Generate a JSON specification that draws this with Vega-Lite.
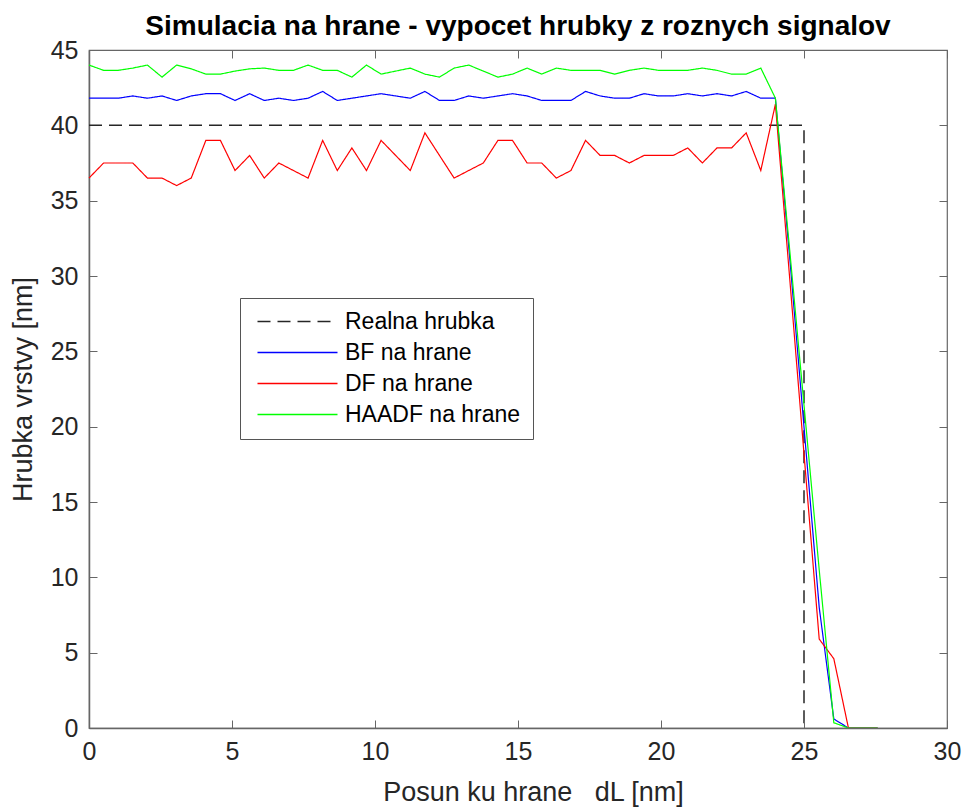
{
  "$schema": "https://vega.github.io/schema/vega-lite/v6.json",
  "width": 858,
  "height": 678,
  "autosize": {"type": "none"},
  "padding": {"left": 89, "top": 50, "right": 21, "bottom": 79},
  "background": "white",
  "title": {"text": "Simulacia na hrane - vypocet hrubky z roznych signalov", "font": "Liberation Sans", "fontSize": 28, "fontWeight": "bold", "color": "#000000", "anchor": "middle", "baseline": "alphabetic", "offset": 13, "dy": 38},
  "datasets": {
    "real": [
      {"x": 0, "y": 40, "n": 1, "series": "Realna hrubka"},
      {"x": 25, "y": 40, "n": 2, "series": "Realna hrubka"},
      {"x": 25, "y": 0, "n": 3, "series": "Realna hrubka"}
    ],
    "sig": [
      {"x": 0, "y": 41.8, "series": "BF na hrane"},
      {"x": 0.5106, "y": 41.8, "series": "BF na hrane"},
      {"x": 1.0213, "y": 41.8, "series": "BF na hrane"},
      {"x": 1.5319, "y": 41.95, "series": "BF na hrane"},
      {"x": 2.0426, "y": 41.8, "series": "BF na hrane"},
      {"x": 2.5532, "y": 41.95, "series": "BF na hrane"},
      {"x": 3.0638, "y": 41.65, "series": "BF na hrane"},
      {"x": 3.5745, "y": 41.95, "series": "BF na hrane"},
      {"x": 4.0851, "y": 42.1, "series": "BF na hrane"},
      {"x": 4.5957, "y": 42.1, "series": "BF na hrane"},
      {"x": 5.1064, "y": 41.65, "series": "BF na hrane"},
      {"x": 5.617, "y": 42.1, "series": "BF na hrane"},
      {"x": 6.1277, "y": 41.65, "series": "BF na hrane"},
      {"x": 6.6383, "y": 41.8, "series": "BF na hrane"},
      {"x": 7.1489, "y": 41.65, "series": "BF na hrane"},
      {"x": 7.6596, "y": 41.8, "series": "BF na hrane"},
      {"x": 8.1702, "y": 42.25, "series": "BF na hrane"},
      {"x": 8.6809, "y": 41.65, "series": "BF na hrane"},
      {"x": 9.1915, "y": 41.8, "series": "BF na hrane"},
      {"x": 9.7021, "y": 41.95, "series": "BF na hrane"},
      {"x": 10.2128, "y": 42.1, "series": "BF na hrane"},
      {"x": 10.7234, "y": 41.95, "series": "BF na hrane"},
      {"x": 11.234, "y": 41.8, "series": "BF na hrane"},
      {"x": 11.7447, "y": 42.25, "series": "BF na hrane"},
      {"x": 12.2553, "y": 41.65, "series": "BF na hrane"},
      {"x": 12.766, "y": 41.65, "series": "BF na hrane"},
      {"x": 13.2766, "y": 41.95, "series": "BF na hrane"},
      {"x": 13.7872, "y": 41.8, "series": "BF na hrane"},
      {"x": 14.2979, "y": 41.95, "series": "BF na hrane"},
      {"x": 14.8085, "y": 42.1, "series": "BF na hrane"},
      {"x": 15.3191, "y": 41.95, "series": "BF na hrane"},
      {"x": 15.8298, "y": 41.65, "series": "BF na hrane"},
      {"x": 16.3404, "y": 41.65, "series": "BF na hrane"},
      {"x": 16.8511, "y": 41.65, "series": "BF na hrane"},
      {"x": 17.3617, "y": 42.25, "series": "BF na hrane"},
      {"x": 17.8723, "y": 41.95, "series": "BF na hrane"},
      {"x": 18.383, "y": 41.8, "series": "BF na hrane"},
      {"x": 18.8936, "y": 41.8, "series": "BF na hrane"},
      {"x": 19.4043, "y": 42.1, "series": "BF na hrane"},
      {"x": 19.9149, "y": 41.95, "series": "BF na hrane"},
      {"x": 20.4255, "y": 41.95, "series": "BF na hrane"},
      {"x": 20.9362, "y": 42.1, "series": "BF na hrane"},
      {"x": 21.4468, "y": 41.95, "series": "BF na hrane"},
      {"x": 21.9574, "y": 42.1, "series": "BF na hrane"},
      {"x": 22.4681, "y": 41.95, "series": "BF na hrane"},
      {"x": 22.9787, "y": 42.25, "series": "BF na hrane"},
      {"x": 23.4894, "y": 41.8, "series": "BF na hrane"},
      {"x": 24.0, "y": 41.8, "series": "BF na hrane"},
      {"x": 24.5106, "y": 31.0, "series": "BF na hrane"},
      {"x": 25.0213, "y": 19.5, "series": "BF na hrane"},
      {"x": 25.5319, "y": 8.0, "series": "BF na hrane"},
      {"x": 26.0426, "y": 0.6, "series": "BF na hrane"},
      {"x": 26.5532, "y": 0, "series": "BF na hrane"},
      {"x": 27.0638, "y": 0, "series": "BF na hrane"},
      {"x": 27.5745, "y": 0, "series": "BF na hrane"},

      {"x": 0, "y": 36.5, "series": "DF na hrane"},
      {"x": 0.5106, "y": 37.5, "series": "DF na hrane"},
      {"x": 1.0213, "y": 37.5, "series": "DF na hrane"},
      {"x": 1.5319, "y": 37.5, "series": "DF na hrane"},
      {"x": 2.0426, "y": 36.5, "series": "DF na hrane"},
      {"x": 2.5532, "y": 36.5, "series": "DF na hrane"},
      {"x": 3.0638, "y": 36.0, "series": "DF na hrane"},
      {"x": 3.5745, "y": 36.5, "series": "DF na hrane"},
      {"x": 4.0851, "y": 39.0, "series": "DF na hrane"},
      {"x": 4.5957, "y": 39.0, "series": "DF na hrane"},
      {"x": 5.1064, "y": 37.0, "series": "DF na hrane"},
      {"x": 5.617, "y": 38.0, "series": "DF na hrane"},
      {"x": 6.1277, "y": 36.5, "series": "DF na hrane"},
      {"x": 6.6383, "y": 37.5, "series": "DF na hrane"},
      {"x": 7.1489, "y": 37.0, "series": "DF na hrane"},
      {"x": 7.6596, "y": 36.5, "series": "DF na hrane"},
      {"x": 8.1702, "y": 39.0, "series": "DF na hrane"},
      {"x": 8.6809, "y": 37.0, "series": "DF na hrane"},
      {"x": 9.1915, "y": 38.5, "series": "DF na hrane"},
      {"x": 9.7021, "y": 37.0, "series": "DF na hrane"},
      {"x": 10.2128, "y": 39.0, "series": "DF na hrane"},
      {"x": 10.7234, "y": 38.0, "series": "DF na hrane"},
      {"x": 11.234, "y": 37.0, "series": "DF na hrane"},
      {"x": 11.7447, "y": 39.5, "series": "DF na hrane"},
      {"x": 12.2553, "y": 38.0, "series": "DF na hrane"},
      {"x": 12.766, "y": 36.5, "series": "DF na hrane"},
      {"x": 13.2766, "y": 37.0, "series": "DF na hrane"},
      {"x": 13.7872, "y": 37.5, "series": "DF na hrane"},
      {"x": 14.2979, "y": 39.0, "series": "DF na hrane"},
      {"x": 14.8085, "y": 39.0, "series": "DF na hrane"},
      {"x": 15.3191, "y": 37.5, "series": "DF na hrane"},
      {"x": 15.8298, "y": 37.5, "series": "DF na hrane"},
      {"x": 16.3404, "y": 36.5, "series": "DF na hrane"},
      {"x": 16.8511, "y": 37.0, "series": "DF na hrane"},
      {"x": 17.3617, "y": 39.0, "series": "DF na hrane"},
      {"x": 17.8723, "y": 38.0, "series": "DF na hrane"},
      {"x": 18.383, "y": 38.0, "series": "DF na hrane"},
      {"x": 18.8936, "y": 37.5, "series": "DF na hrane"},
      {"x": 19.4043, "y": 38.0, "series": "DF na hrane"},
      {"x": 19.9149, "y": 38.0, "series": "DF na hrane"},
      {"x": 20.4255, "y": 38.0, "series": "DF na hrane"},
      {"x": 20.9362, "y": 38.5, "series": "DF na hrane"},
      {"x": 21.4468, "y": 37.5, "series": "DF na hrane"},
      {"x": 21.9574, "y": 38.5, "series": "DF na hrane"},
      {"x": 22.4681, "y": 38.5, "series": "DF na hrane"},
      {"x": 22.9787, "y": 39.5, "series": "DF na hrane"},
      {"x": 23.4894, "y": 37.0, "series": "DF na hrane"},
      {"x": 24.0, "y": 41.4, "series": "DF na hrane"},
      {"x": 24.5106, "y": 29.6, "series": "DF na hrane"},
      {"x": 25.0213, "y": 17.7, "series": "DF na hrane"},
      {"x": 25.5319, "y": 5.9, "series": "DF na hrane"},
      {"x": 26.0426, "y": 4.6, "series": "DF na hrane"},
      {"x": 26.5532, "y": 0, "series": "DF na hrane"},
      {"x": 27.0638, "y": 0, "series": "DF na hrane"},
      {"x": 27.5745, "y": 0, "series": "DF na hrane"},

      {"x": 0, "y": 44.0, "series": "HAADF na hrane"},
      {"x": 0.5106, "y": 43.65, "series": "HAADF na hrane"},
      {"x": 1.0213, "y": 43.65, "series": "HAADF na hrane"},
      {"x": 1.5319, "y": 43.8, "series": "HAADF na hrane"},
      {"x": 2.0426, "y": 44.0, "series": "HAADF na hrane"},
      {"x": 2.5532, "y": 43.2, "series": "HAADF na hrane"},
      {"x": 3.0638, "y": 44.0, "series": "HAADF na hrane"},
      {"x": 3.5745, "y": 43.75, "series": "HAADF na hrane"},
      {"x": 4.0851, "y": 43.4, "series": "HAADF na hrane"},
      {"x": 4.5957, "y": 43.4, "series": "HAADF na hrane"},
      {"x": 5.1064, "y": 43.6, "series": "HAADF na hrane"},
      {"x": 5.617, "y": 43.75, "series": "HAADF na hrane"},
      {"x": 6.1277, "y": 43.8, "series": "HAADF na hrane"},
      {"x": 6.6383, "y": 43.65, "series": "HAADF na hrane"},
      {"x": 7.1489, "y": 43.65, "series": "HAADF na hrane"},
      {"x": 7.6596, "y": 44.0, "series": "HAADF na hrane"},
      {"x": 8.1702, "y": 43.65, "series": "HAADF na hrane"},
      {"x": 8.6809, "y": 43.65, "series": "HAADF na hrane"},
      {"x": 9.1915, "y": 43.2, "series": "HAADF na hrane"},
      {"x": 9.7021, "y": 44.0, "series": "HAADF na hrane"},
      {"x": 10.2128, "y": 43.4, "series": "HAADF na hrane"},
      {"x": 10.7234, "y": 43.6, "series": "HAADF na hrane"},
      {"x": 11.234, "y": 43.8, "series": "HAADF na hrane"},
      {"x": 11.7447, "y": 43.4, "series": "HAADF na hrane"},
      {"x": 12.2553, "y": 43.2, "series": "HAADF na hrane"},
      {"x": 12.766, "y": 43.8, "series": "HAADF na hrane"},
      {"x": 13.2766, "y": 44.0, "series": "HAADF na hrane"},
      {"x": 13.7872, "y": 43.6, "series": "HAADF na hrane"},
      {"x": 14.2979, "y": 43.2, "series": "HAADF na hrane"},
      {"x": 14.8085, "y": 43.4, "series": "HAADF na hrane"},
      {"x": 15.3191, "y": 43.8, "series": "HAADF na hrane"},
      {"x": 15.8298, "y": 43.4, "series": "HAADF na hrane"},
      {"x": 16.3404, "y": 43.8, "series": "HAADF na hrane"},
      {"x": 16.8511, "y": 43.65, "series": "HAADF na hrane"},
      {"x": 17.3617, "y": 43.65, "series": "HAADF na hrane"},
      {"x": 17.8723, "y": 43.65, "series": "HAADF na hrane"},
      {"x": 18.383, "y": 43.4, "series": "HAADF na hrane"},
      {"x": 18.8936, "y": 43.65, "series": "HAADF na hrane"},
      {"x": 19.4043, "y": 43.8, "series": "HAADF na hrane"},
      {"x": 19.9149, "y": 43.65, "series": "HAADF na hrane"},
      {"x": 20.4255, "y": 43.65, "series": "HAADF na hrane"},
      {"x": 20.9362, "y": 43.65, "series": "HAADF na hrane"},
      {"x": 21.4468, "y": 43.8, "series": "HAADF na hrane"},
      {"x": 21.9574, "y": 43.65, "series": "HAADF na hrane"},
      {"x": 22.4681, "y": 43.4, "series": "HAADF na hrane"},
      {"x": 22.9787, "y": 43.4, "series": "HAADF na hrane"},
      {"x": 23.4894, "y": 43.8, "series": "HAADF na hrane"},
      {"x": 24.0, "y": 41.8, "series": "HAADF na hrane"},
      {"x": 24.5106, "y": 31.5, "series": "HAADF na hrane"},
      {"x": 25.0213, "y": 21.0, "series": "HAADF na hrane"},
      {"x": 25.5319, "y": 10.5, "series": "HAADF na hrane"},
      {"x": 26.0426, "y": 0.35, "series": "HAADF na hrane"},
      {"x": 26.5532, "y": 0, "series": "HAADF na hrane"},
      {"x": 27.0638, "y": 0, "series": "HAADF na hrane"},
      {"x": 27.5745, "y": 0, "series": "HAADF na hrane"}
    ]
  },
  "layer": [
    {
      "data": {"name": "real"},
      "mark": {"type": "line", "strokeWidth": 1.5},
      "encoding": {
        "x": {"field": "x", "type": "quantitative", "scale": {"domain": [0, 30], "nice": false, "zero": false},
          "axis": {"orient": "bottom", "values": [0, 5, 10, 15, 20, 25, 30], "title": "Posun ku hrane\u00a0\u00a0\u00a0dL [nm]", "titleX": 444, "titleY": 72, "titleAlign": "center", "titleBaseline": "alphabetic", "labelPadding": 19, "tickSize": -8, "domain": true, "zindex": 1}},
        "y": {"field": "y", "type": "quantitative", "scale": {"domain": [0, 45], "nice": false, "zero": false},
          "axis": {"orient": "left", "values": [0, 5, 10, 15, 20, 25, 30, 35, 40, 45], "title": "Hrubka vrstvy [nm]", "titleX": -58, "titleBaseline": "alphabetic", "labelPadding": 19, "tickSize": -8, "domain": true}},
        "color": {"field": "series", "type": "nominal", "title": null,
          "scale": {"domain": ["Realna hrubka", "BF na hrane", "DF na hrane", "HAADF na hrane"], "range": ["#262626", "#0000ff", "#ff0000", "#00ff00"]},
          "legend": {"orient": "none", "legendX": 151, "legendY": 248}},
        "strokeDash": {"field": "series", "type": "nominal", "title": null,
          "scale": {"domain": ["Realna hrubka", "BF na hrane", "DF na hrane", "HAADF na hrane"], "range": [[13, 7], [1, 0], [1, 0], [1, 0]]},
          "legend": {"orient": "none", "legendX": 151, "legendY": 248}},
        "order": {"field": "n", "type": "quantitative"}
      }
    },
    {
      "data": {"name": "sig"},
      "mark": {"type": "line", "strokeWidth": 1.2},
      "encoding": {
        "x": {"field": "x", "type": "quantitative",
          "axis": {"orient": "top", "values": [0, 5, 10, 15, 20, 25, 30], "labels": false, "title": null, "tickSize": -8, "domain": false}},
        "y": {"field": "y", "type": "quantitative",
          "axis": {"orient": "right", "values": [0, 5, 10, 15, 20, 25, 30, 35, 40, 45], "labels": false, "title": null, "tickSize": -8, "domain": false}},
        "color": {"field": "series", "type": "nominal", "title": null},
        "strokeDash": {"field": "series", "type": "nominal", "title": null}
      }
    }
  ],
  "resolve": {"axis": {"x": "independent", "y": "independent"}},
  "config": {
    "view": {"stroke": "#666666", "strokeWidth": 1.2},
    "axis": {"grid": false, "labelFont": "Liberation Sans", "labelFontSize": 25, "labelColor": "#262626", "titleFont": "Liberation Sans", "titleFontSize": 27, "titleFontWeight": "normal", "titleColor": "#262626", "tickColor": "#666666", "tickWidth": 1, "domainColor": "#666666", "domainWidth": 1.5, "labelFlush": false, "labelOverlap": false},
    "axisY": {"titleFontSize": 27},
    "legend": {"fillColor": "white", "strokeColor": "#555555", "padding": 12, "labelFont": "Liberation Sans", "labelFontSize": 23, "labelColor": "#000000", "rowPadding": 7, "symbolType": "M-1.5,0H18.5", "symbolSize": 64, "symbolStrokeWidth": 1.5, "labelOffset": 70, "labelLimit": 400}
  }
}
